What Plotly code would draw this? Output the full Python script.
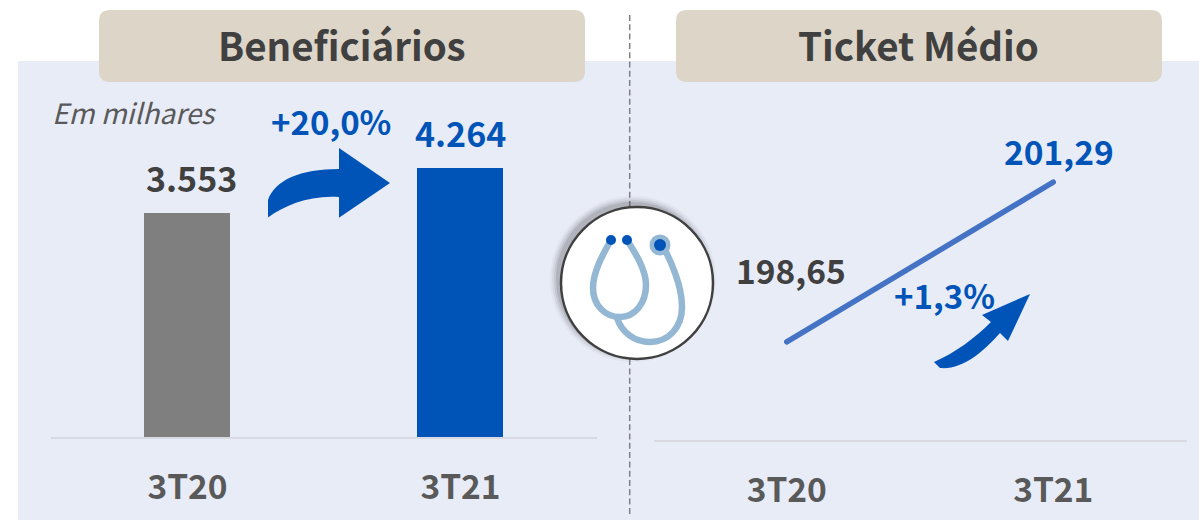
import plotly.graph_objects as go

W, H = 1199, 520
FONT = "Noto Sans CJK SC, Noto Sans, sans-serif"
DARK = "#404040"
BLUE = "#0054b8"
GREY_BAR = "#7f7f7f"
LINE_BLUE = "#4472c4"
STETH = "#94b8d3"

categories = ["3T20", "3T21"]
benef_values = [3553, 4264]
benef_labels = ["3.553", "4.264"]
ticket_values = [198.65, 201.29]
ticket_labels = ["198,65", "201,29"]


def X(x):
    return x / W


def Y(y):
    return 1 - y / H


def path(*parts):
    """Build an SVG path in paper fractions from reference pixel positions."""
    out = []
    for part in parts:
        cmd, pts = part[0], part[1:]
        out.append(cmd + " ".join(f"{X(a):.5f},{Y(b):.5f}" for a, b in pts))
    return " ".join(out)


def rounded(x0, y0, x1, y1, r):
    return path(
        ("M", (x0 + r, y0)), ("L", (x1 - r, y0)), ("Q", (x1, y0), (x1, y0 + r)),
        ("L", (x1, y1 - r)), ("Q", (x1, y1), (x1 - r, y1)), ("L", (x0 + r, y1)),
        ("Q", (x0, y1), (x0, y1 - r)), ("L", (x0, y0 + r)), ("Q", (x0, y0), (x0 + r, y0)),
    ) + " Z"


def circle(cx, cy, r, fill, line=None, lw=0, layer="above"):
    return dict(
        type="circle", xref="paper", yref="paper", layer=layer,
        x0=X(cx - r), x1=X(cx + r), y0=Y(cy + r), y1=Y(cy - r),
        fillcolor=fill, line=dict(color=line or fill, width=lw),
    )


fig = go.Figure()
fig.add_trace(go.Bar(
    x=categories, y=benef_values, width=0.315, offset=-0.1590,
    marker=dict(color=[GREY_BAR, BLUE], line=dict(width=0)),
    xaxis="x", yaxis="y", showlegend=False,
))
fig.add_trace(go.Scatter(
    x=categories, y=ticket_values, mode="lines",
    line=dict(color=LINE_BLUE, width=5.5), xaxis="x2", yaxis="y2", showlegend=False,
))

shapes = [
    dict(type="rect", xref="paper", yref="paper", layer="below",
         x0=X(18), x1=1, y0=0, y1=Y(61), fillcolor="#e8ecf7", line=dict(width=0)),
    dict(type="path", xref="paper", yref="paper", layer="below",
         path=rounded(99, 10, 585, 82, 11), fillcolor="#ddd5c8", line=dict(width=0)),
    dict(type="path", xref="paper", yref="paper", layer="below",
         path=rounded(676, 10, 1162, 82, 11), fillcolor="#ddd5c8", line=dict(width=0)),
    dict(type="line", xref="paper", yref="paper", layer="below",
         x0=X(629.7), x1=X(629.7), y0=Y(15), y1=Y(517),
         line=dict(color="#808080", width=1.5, dash="6px,3.3px")),
    # big curved arrow
    dict(type="path", xref="paper", yref="paper", fillcolor=BLUE, line=dict(width=0),
         path=path(("M", (268, 217.5)), ("L", (268, 200)),
                   ("C", (275, 180), (300, 169), (339, 169)),
                   ("L", (339, 148)), ("L", (390, 183)), ("L", (339, 217.7)), ("L", (339, 197)),
                   ("C", (310, 195), (285, 205), (268, 217.5))) + " Z"),
    # small curved arrow
    dict(type="path", xref="paper", yref="paper", fillcolor=BLUE, line=dict(width=0),
         path=path(("M", (1030, 294)), ("L", (982, 315)), ("L", (991, 322)),
                   ("C", (975, 338), (955, 353), (934, 362)),
                   ("L", (940, 368)),
                   ("C", (962, 370), (982, 353), (1000, 333)),
                   ("L", (1008, 341))) + " Z"),
]
# soft shadow of the round badge, then the badge
for grow, alpha in [(7, 0.04), (5, 0.07), (3, 0.10), (1, 0.14)]:
    shapes.append(circle(633, 279, 76 + grow, f"rgba(60,60,60,{alpha})"))
shapes.append(circle(637, 283, 76, "#ffffff", DARK, 2.5))
# stethoscope
shapes += [
    dict(type="path", xref="paper", yref="paper", line=dict(color=STETH, width=6.5),
         path=path(("M", (611, 240)), ("C", (603, 254), (593, 272), (593, 288)),
                   ("C", (593, 305), (605, 317), (620, 317)),
                   ("C", (635, 317), (646, 303), (646, 285)),
                   ("C", (646, 270), (636, 254), (627, 240)))),
    dict(type="path", xref="paper", yref="paper", line=dict(color=STETH, width=6.5),
         path=path(("M", (617, 318)), ("C", (622, 333), (635, 342), (650, 342)),
                   ("C", (668, 342), (682, 328), (682, 307)),
                   ("C", (682, 288), (674, 268), (665, 250)))),
    circle(660, 245, 10.5, STETH),
    circle(660, 245, 6, BLUE),
    circle(611, 240, 5, BLUE),
    circle(627, 240, 5, BLUE),
]

annotations = []


def note(text, x, y, size, color=DARK, bold=True, italic=False):
    annotations.append(dict(
        text=text, xref="paper", yref="paper", x=X(x), y=Y(y),
        xanchor="center", yanchor="middle", showarrow=False,
        font=dict(family=FONT, size=size, color=color,
                  weight="bold" if bold else "normal",
                  style="italic" if italic else "normal"),
    ))


note("Beneficiários", 342, 44, 38.5)
note("Ticket Médio", 919, 44, 38.5)
note("Em milhares", 134, 112, 28, "#595959", bold=False, italic=True)
note("+20,0%", 331, 121, 33, BLUE)
note("+1,3%", 944, 295, 33, BLUE)

# value labels are tied to the data points
label_colors = [DARK, BLUE]
for cat, val, txt, (dx, dy), col in zip(categories, benef_values, benef_labels, [(3.5, 36), (-0.5, 36)], label_colors):
    annotations.append(dict(
        text=txt, xref="x", yref="y", x=cat, y=val, xshift=dx, yshift=dy,
        xanchor="center", yanchor="middle", showarrow=False,
        font=dict(family=FONT, size=34, color=col, weight="bold"),
    ))
for cat, val, txt, (dx, dy), col in zip(categories, ticket_values, ticket_labels, [(4.5, 72), (5.5, 32)], label_colors):
    annotations.append(dict(
        text=txt, xref="x2", yref="y2", x=cat, y=val, xshift=dx, yshift=dy,
        xanchor="center", yanchor="middle", showarrow=False,
        font=dict(family=FONT, size=33.5, color=col, weight="bold"),
    ))

tickfont = dict(family=FONT, size=33.5, color="#595959", weight="bold")
base = dict(showgrid=False, zeroline=False, ticks="", showline=True,
            linecolor="#d9d9e3", linewidth=2, tickfont=tickfont, fixedrange=True,
            type="category", range=[-0.5, 1.5])
hidden = dict(visible=False, showgrid=False, zeroline=False, fixedrange=True)

fig.update_layout(
    width=W, height=H, autosize=False,
    margin=dict(l=0, r=0, t=0, b=0, pad=0),
    paper_bgcolor="#ffffff", plot_bgcolor="rgba(0,0,0,0)",
    showlegend=False, bargap=0,
    xaxis=dict(domain=[X(51), X(597)], anchor="y", ticklabelstandoff=20, **base),
    yaxis=dict(domain=[Y(437), Y(61)], anchor="x", range=[0, 5964], **hidden),
    xaxis2=dict(domain=[X(653.5), X(1186.5)], anchor="y2", ticklabelstandoff=20, **base),
    yaxis2=dict(domain=[Y(440), Y(61)], anchor="x2", range=[197.03, 203.29], **hidden),
    shapes=shapes, annotations=annotations,
)

fig.write_html(
    "out.html", config=dict(displayModeBar=False),
    post_script=(
        "document.body.style.margin='0';"
        "document.querySelectorAll('.scatterlayer .js-line')"
        ".forEach(function(p){p.style.strokeLinecap='round';});"
    ),
)
